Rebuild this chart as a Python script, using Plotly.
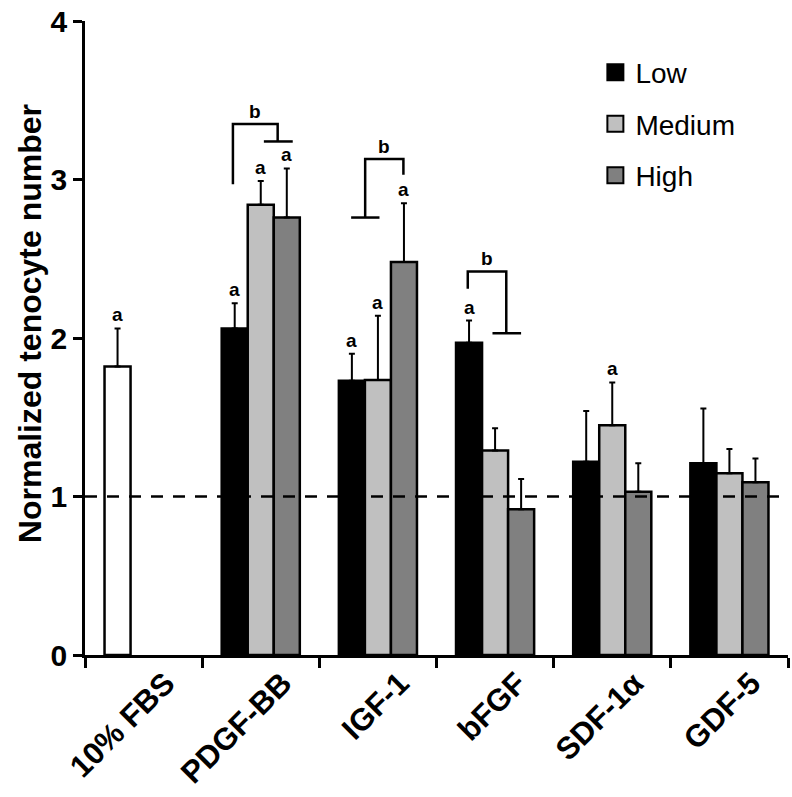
import plotly.graph_objects as go

# ---------------- data ----------------
categories = ["10% FBS", "PDGF-BB", "IGF-1", "bFGF", "SDF-1α", "GDF-5"]
growth_factors = categories[1:]

fbs_value = [1.82]
fbs_err_top = [2.06]

low_values = [2.06, 1.73, 1.97, 1.22, 1.21]
low_err_top = [2.22, 1.90, 2.11, 1.54, 1.555]
medium_values = [2.84, 1.735, 1.29, 1.45, 1.147]
medium_err_top = [2.99, 2.14, 1.43, 1.72, 1.30]
high_values = [2.76, 2.48, 0.92, 1.03, 1.09]
high_err_top = [3.07, 2.85, 1.11, 1.21, 1.24]

# significance letters ("a") above bars: (series, category)
letter_a = [("FBS", "10% FBS"),
            ("Low", "PDGF-BB"), ("Medium", "PDGF-BB"), ("High", "PDGF-BB"),
            ("Low", "IGF-1"), ("Medium", "IGF-1"), ("High", "IGF-1"),
            ("Low", "bFGF"), ("Medium", "SDF-1α")]

# "b" brackets: category, left leg offset(bars), left leg bottom, top, right leg offset, right leg bottom,
#               T-bar from/to offsets, T-bar level
brackets = [
    ("PDGF-BB", -1.07, 2.97, 3.35, 0.65, 3.24, 0.12, 1.23, 3.24),
    ("IGF-1", -0.49, 2.76, 3.13, 0.98, 3.03, -1.03, 0.06, 2.76),
    ("bFGF", -1.05, 2.31, 2.42, 0.43, 2.03, -0.10, 1.00, 2.03),
]

legend_names = ["Low", "Medium", "High"]
reference_level = 1.0
y_ticks = [0, 1, 2, 3, 4]

# ---------------- style ----------------
FONT = "Arial, 'Liberation Sans', Helvetica, sans-serif"
colors = {"FBS": "#ffffff", "Low": "#000000", "Medium": "#c0c0c0", "High": "#808080"}
BAR_W = 0.222  # bar width in category units (bargap 1/3, 3 groups)

def err_plus(vals, tops):
    return [t - v for v, t in zip(vals, tops)]

fig = go.Figure()

def add_bar(name, x, vals, tops, group):
    fig.add_trace(go.Bar(
        name=name, x=x, y=vals, offsetgroup=group, showlegend=False,
        marker=dict(color=colors[name], line=dict(color="black", width=2.5)),
        error_y=dict(type="data", symmetric=False, array=err_plus(vals, tops),
                     arrayminus=[0] * len(vals), color="black", thickness=2, width=3),
    ))

add_bar("FBS", ["10% FBS"], fbs_value, fbs_err_top, "L")
add_bar("Low", growth_factors, low_values, low_err_top, "L")
add_bar("Medium", growth_factors, medium_values, medium_err_top, "M")
add_bar("High", growth_factors, high_values, high_err_top, "H")

# legend entries (square swatches)
for name in legend_names:
    fig.add_trace(go.Scatter(
        x=[None], y=[None], mode="markers", name=name, legendgroup=name,
        marker=dict(symbol="square", size=16, color=colors[name],
                    line=dict(color="black", width=2)),
    ))

series_lookup = {
    "FBS": (["10% FBS"], fbs_err_top, -1),
    "Low": (growth_factors, low_err_top, -1),
    "Medium": (growth_factors, medium_err_top, 0),
    "High": (growth_factors, high_err_top, 1),
}

annotations = []
for s, c in letter_a:
    cats, tops, off = series_lookup[s]
    top = tops[cats.index(c)]
    annotations.append(dict(
        x=categories.index(c) + off * BAR_W, y=top, xref="x", yref="y",
        text="<b>a</b>", showarrow=False, yanchor="bottom", yshift=1,
        font=dict(family=FONT, size=19, color="black")))

shapes = []
line_style = dict(color="black", width=2.5)
for c, lo, lb, top, ro, rb, t0, t1, tl in brackets:
    ci = categories.index(c)
    xl, xr = ci + lo * BAR_W, ci + ro * BAR_W
    shapes.append(dict(type="path", xref="x", yref="y",
                       path=f"M{xl},{lb} L{xl},{top} L{xr},{top} L{xr},{rb}",
                       line=line_style))
    shapes.append(dict(type="line", xref="x", yref="y",
                       x0=ci + t0 * BAR_W, x1=ci + t1 * BAR_W, y0=tl, y1=tl,
                       line=line_style))
    annotations.append(dict(
        x=(xl + xr) / 2, y=top, xref="x", yref="y", text="<b>b</b>",
        showarrow=False, yanchor="bottom", yshift=0,
        font=dict(family=FONT, size=19, color="black")))

# dashed reference line at 1
shapes.append(dict(type="line", xref="paper", yref="y", x0=0, x1=1,
                   y0=reference_level, y1=reference_level, layer="above",
                   line=dict(color="black", width=2.5, dash="12px,10px")))

# y-axis title as annotation
annotations.append(dict(
    text="<b>Normalized tenocyte number</b>", textangle=-90,
    xref="paper", yref="paper", x=0, y=(655 - 320) / 642, xanchor="center",
    yanchor="middle", xshift=-55, showarrow=False,
    font=dict(family=FONT, size=32, color="black")))

fig.update_layout(
    width=792, height=797,
    margin=dict(l=85, r=4, t=13, b=142),
    paper_bgcolor="white", plot_bgcolor="white",
    barmode="group", bargap=1 / 3, bargroupgap=0,
    font=dict(family=FONT, color="black"),
    shapes=shapes, annotations=annotations,
    legend=dict(x=0.726, y=0.958, xanchor="left", yanchor="top",
                font=dict(family=FONT, size=28, color="black"),
                bgcolor="rgba(0,0,0,0)", traceorder="grouped",
                tracegroupgap=12),
)
fig.update_xaxes(
    type="category", categoryorder="array", categoryarray=categories,
    range=[-0.5, len(categories) - 0.5],
    showline=True, linecolor="black", linewidth=2.5,
    ticks="outside", tickson="boundaries", ticklen=10, tickwidth=2.5, tickcolor="black",
    tickangle=-45, ticklabelshift=22, ticklabelstandoff=-5,
    tickfont=dict(family=FONT, size=31, color="black", weight="bold"),
    showgrid=False, zeroline=False,
)
fig.update_yaxes(
    range=[0, 4], tickvals=y_ticks, ticktext=[f"<b>{v}</b>" for v in y_ticks],
    ticklabeloverflow="allow",
    showline=True, linecolor="black", linewidth=2.5,
    ticks="outside", ticklen=9, tickwidth=2.5, tickcolor="black",
    tickfont=dict(family=FONT, size=30, color="black"),
    showgrid=False, zeroline=False,
)

fig.write_html("out.html", config={"displayModeBar": False},
               post_script="document.body.style.margin='0';")
